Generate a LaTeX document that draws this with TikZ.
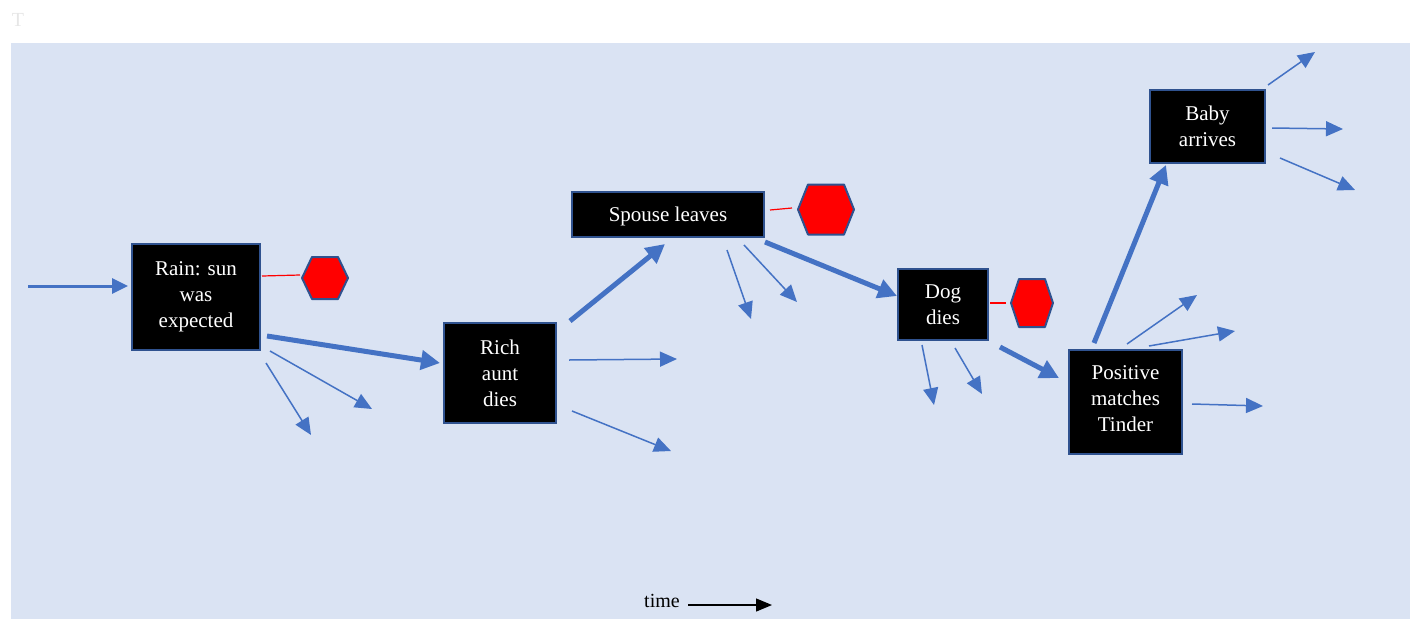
\documentclass[tikz,border=0pt]{standalone}
\usepackage{fontspec}
\setmainfont{Liberation Serif}
\usetikzlibrary{arrows.meta}
\definecolor{bgblue}{HTML}{DAE3F3}
\definecolor{arrblue}{HTML}{4472C4}
\definecolor{edgeblue}{HTML}{2F528F}
\definecolor{faint}{HTML}{E6E6E6}
\tikzset{
  event/.style={draw=edgeblue, line width=2pt, fill=black, text=white, inner sep=0pt,
    align=center, font=\fontsize{21}{26}\selectfont},
  bigarrow/.style={draw=arrblue, line width=5pt, -{Triangle[length=19pt,width=19pt]}},
  smallarrow/.style={draw=arrblue, line width=1.5pt, -{Triangle[length=17pt,width=15pt]}},
  stopsign/.style={fill=red, draw=edgeblue, line width=2pt, line join=round},
  redlink/.style={draw=red, line width=1.2pt},
}
\begin{document}
\begin{tikzpicture}[x=1pt,y=-1pt]
\useasboundingbox (0,0) rectangle (1410,619);
\fill[bgblue] (11,43) rectangle (1410,619);
\node[text=faint, font=\fontsize{20}{24}\selectfont] (tmark) at (18,20) {T};

% event boxes
\node[event, minimum width=128pt, minimum height=106pt] (rain) at (196,297) {Rain: sun\\was\\expected};
\node[event, minimum width=112pt, minimum height=100pt] (aunt) at (500,373) {Rich\\aunt\\dies};
\node[event, minimum width=192pt, minimum height=45pt] (spouse) at (668,214.5) {\raisebox{-2pt}[\height][\depth]{Spouse leaves}};
\node[event, minimum width=90pt, minimum height=71pt] (dog) at (943,304.5) {Dog\\dies};
\node[event, minimum width=113pt, minimum height=104pt] (tinder) at (1125.5,402) {\raisebox{2pt}[\height][\depth]{\begin{tabular}{@{}c@{}}Positive\\matches\\Tinder\end{tabular}}};
\node[event, minimum width=115pt, minimum height=73pt] (baby) at (1207.5,126.5) {Baby\\arrives};

% stop hexagons
\coordinate (h1) at (325,278);
\coordinate (h2) at (826,209.5);
\coordinate (h3) at (1032,303);
\draw[stopsign] (302,278) -- (312,257) -- (338,257) -- (348,278) -- (338,299) -- (312,299) -- cycle;
\draw[stopsign] (798,209.5) -- (808,184.5) -- (844,184.5) -- (854,209.5) -- (844,234.5) -- (808,234.5) -- cycle;
\draw[stopsign] (1011,303) -- (1019,279) -- (1045,279) -- (1053,303) -- (1045,327) -- (1019,327) -- cycle;

\coordinate (r1a) at (262,276); \coordinate (r1b) at (300,275);
\coordinate (r2a) at (770,210); \coordinate (r2b) at (792,208);
\coordinate (r3a) at (990,303); \coordinate (r3b) at (1006,303);
\draw[redlink] (r1a) -- (r1b);
\draw[redlink] (r2a) -- (r2b);
\draw[redlink] (r3a) -- (r3b);

% main path
\coordinate (start) at (28,286); \coordinate (inrain) at (128,286);
\draw[arrblue, line width=3pt, -{Triangle[length=16pt,width=15pt]}] (start) -- (inrain);
\coordinate (a1) at (267,336); \coordinate (a1e) at (440,363);
\coordinate (a2) at (570,321); \coordinate (a2e) at (665,244);
\coordinate (a3) at (765,242); \coordinate (a3e) at (897,296);
\coordinate (a4) at (1000,347); \coordinate (a4e) at (1059,378);
\coordinate (a5) at (1094,343); \coordinate (a5e) at (1166,165);
\draw[bigarrow] (a1) -- (a1e);
\draw[bigarrow] (a2) -- (a2e);
\draw[bigarrow] (a3) -- (a3e);
\draw[bigarrow] (a4) -- (a4e);
\draw[bigarrow] (a5) -- (a5e);

% side branches
\coordinate (b1) at (270,351); \coordinate (b1e) at (372,409);
\coordinate (b2) at (266,363); \coordinate (b2e) at (311,435);
\coordinate (b3) at (569,360); \coordinate (b3e) at (677,359);
\coordinate (b4) at (572,411); \coordinate (b4e) at (671,451);
\coordinate (b5) at (727,250); \coordinate (b5e) at (751,319);
\coordinate (b6) at (744,245); \coordinate (b6e) at (797,302);
\coordinate (b7) at (922,345); \coordinate (b7e) at (934,405);
\coordinate (b8) at (955,348); \coordinate (b8e) at (982,394);
\coordinate (b9) at (1127,344); \coordinate (b9e) at (1197,295);
\coordinate (b10) at (1149,346); \coordinate (b10e) at (1235,331);
\coordinate (b11) at (1192,404); \coordinate (b11e) at (1263,406);
\coordinate (b12) at (1268,85); \coordinate (b12e) at (1315,52);
\coordinate (b13) at (1272,128); \coordinate (b13e) at (1343,129);
\coordinate (b14) at (1280,158); \coordinate (b14e) at (1355,190);
\foreach \s/\e in {b1/b1e,b2/b2e,b3/b3e,b4/b4e,b5/b5e,b6/b6e,b7/b7e,b8/b8e,b9/b9e,b10/b10e,b11/b11e,b12/b12e,b13/b13e,b14/b14e}
  \draw[smallarrow] (\s) -- (\e);

% time axis
\node[font=\fontsize{20}{24}\selectfont, anchor=base] (timelbl) at (662,607) {time};
\coordinate (t1) at (688,605); \coordinate (t2) at (772,605);
\draw[black, line width=1.3pt, -{Triangle[length=16pt,width=13pt]}] (t1) -- (t2);
\end{tikzpicture}
\end{document}
